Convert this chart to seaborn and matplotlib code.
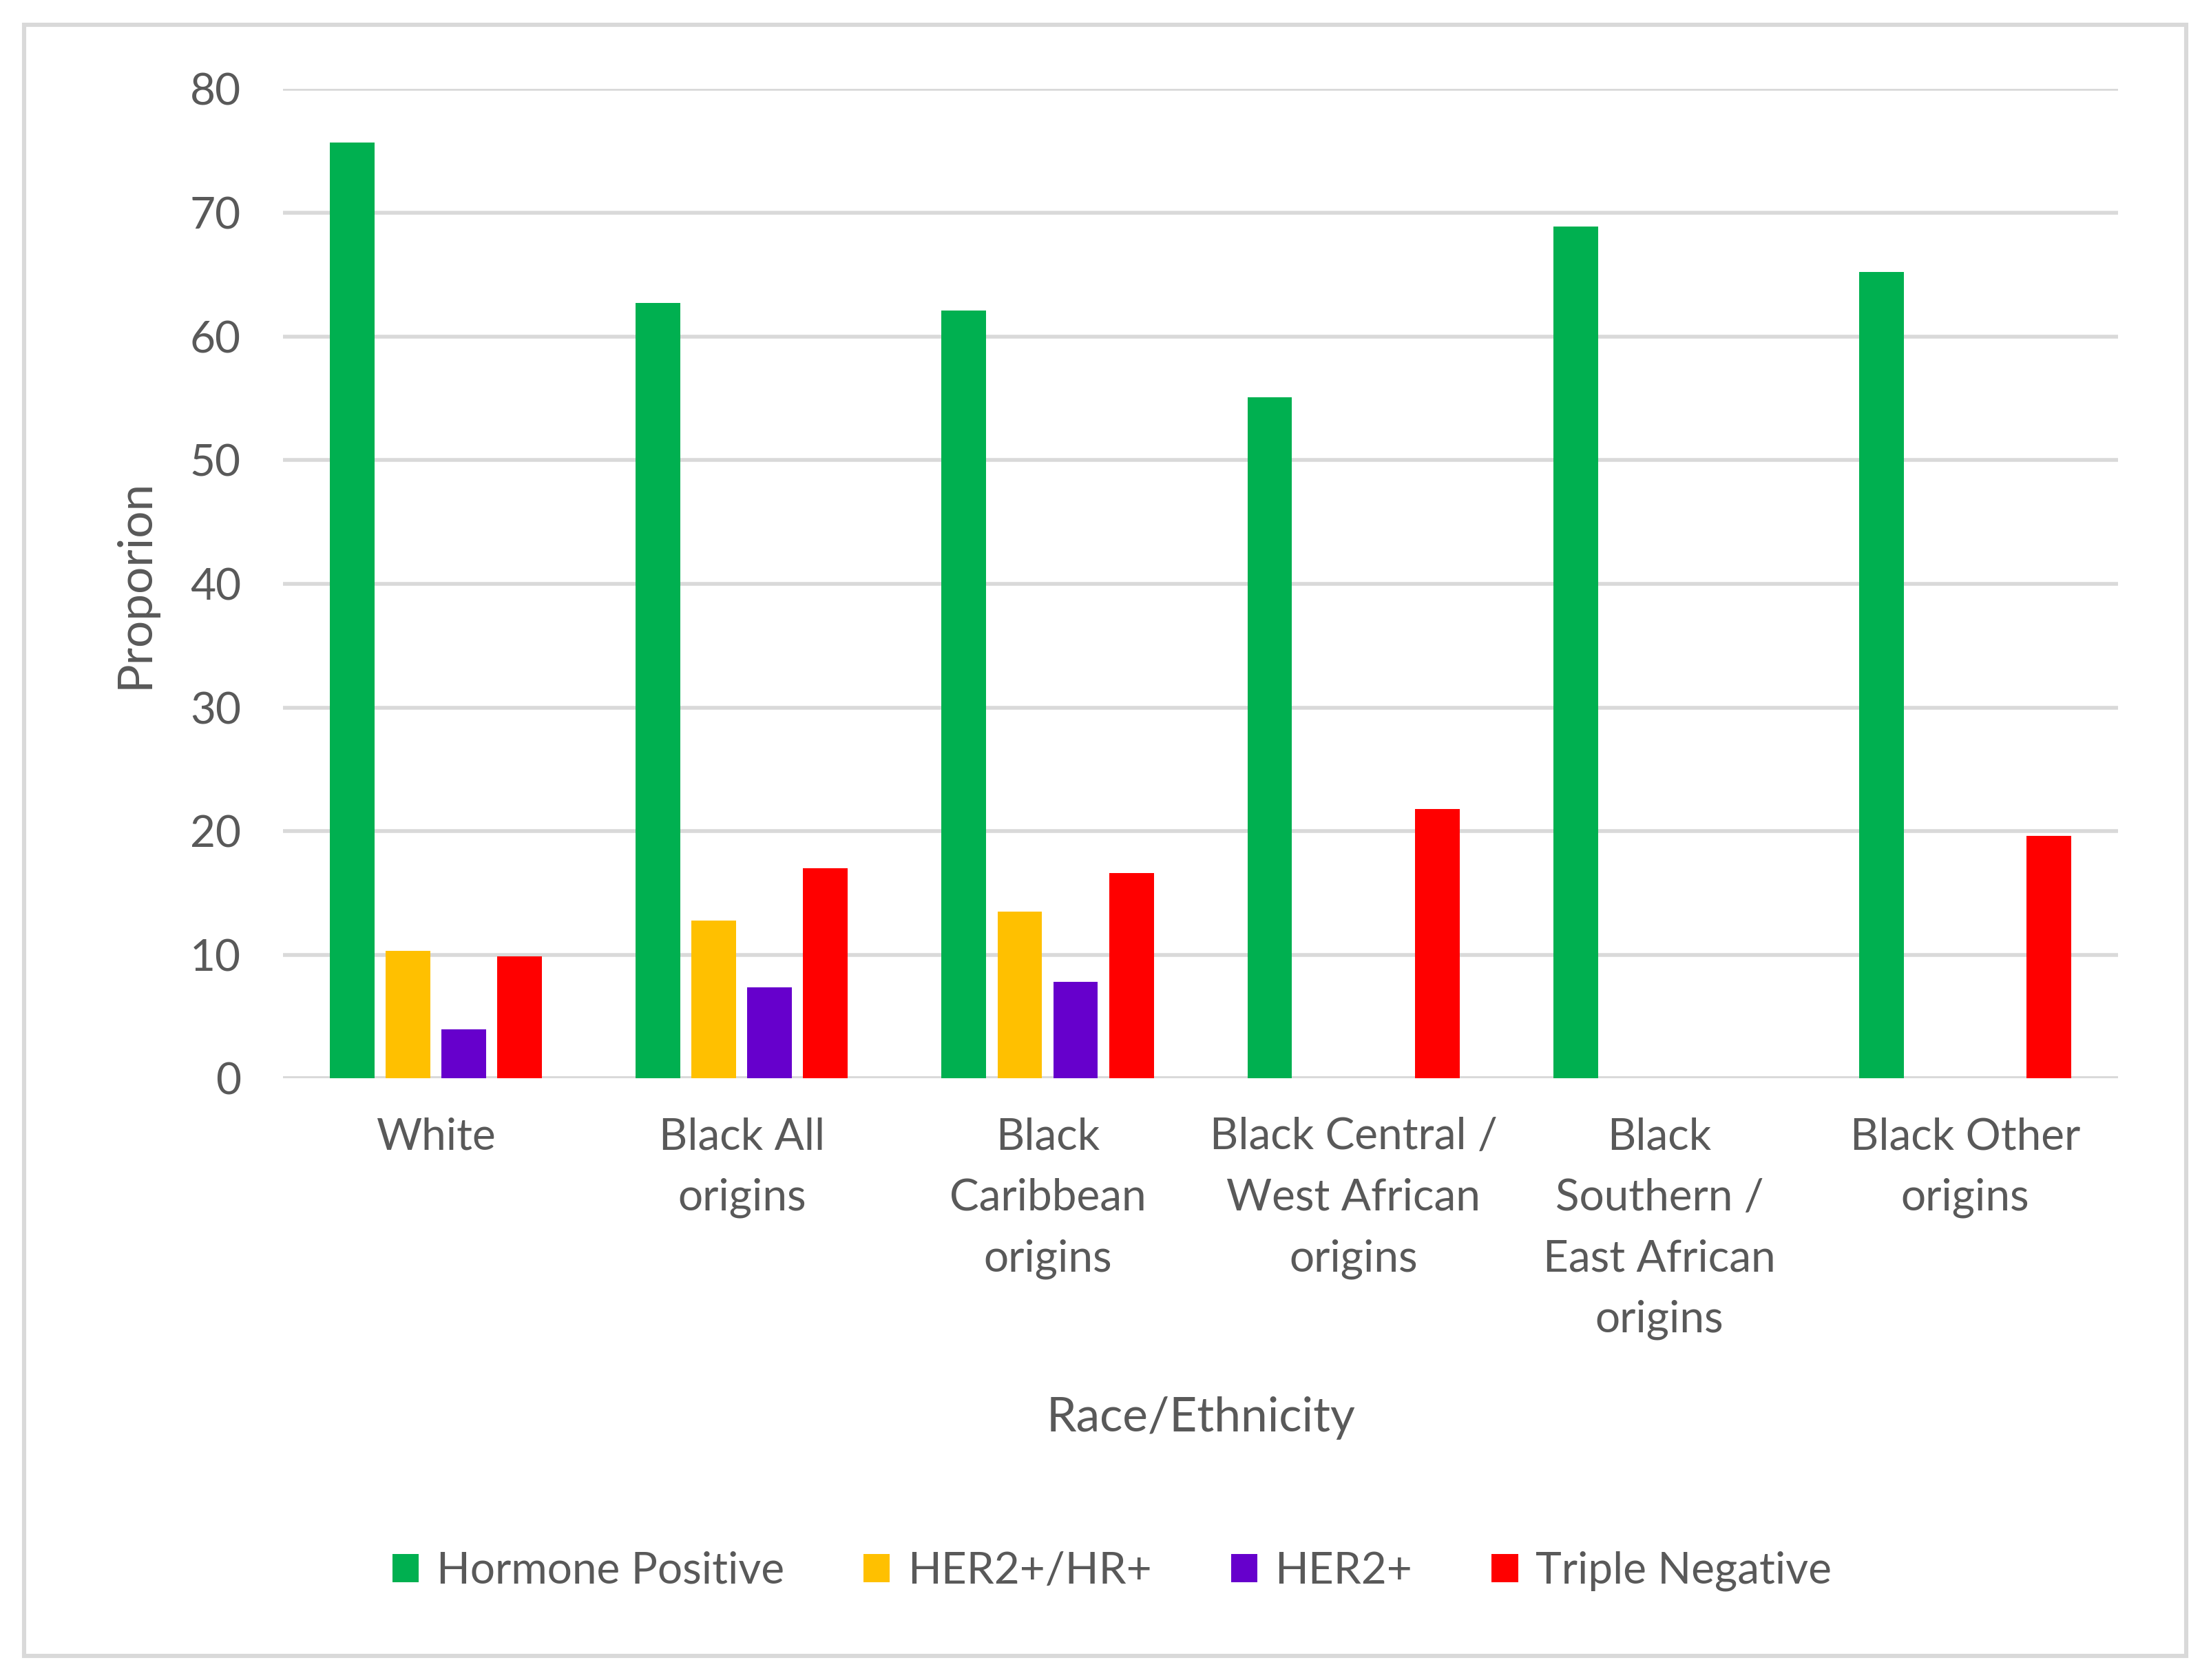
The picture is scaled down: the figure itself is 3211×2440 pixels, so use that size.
import pandas as pd
import numpy as np
import matplotlib.pyplot as plt
import seaborn as sns
from matplotlib.patches import Rectangle

# values (missing bars left as NaN)
groups = ["White", "Black All\norigins", "Black\nCaribbean\norigins",
          "Black Central /\nWest African\norigins",
          "Black\nSouthern /\nEast African\norigins", "Black Other\norigins"]
subtypes = ["Hormone Positive", "HER2+/HR+", "HER2+", "Triple Negative"]
hormone_pos = [75.7, 62.7, 62.1, 55.1, 68.9, 65.2]
her2_hr = [10.3, 12.8, 13.5, np.nan, np.nan, np.nan]
her2 = [4.0, 7.4, 7.8, np.nan, np.nan, np.nan]
triple_neg = [9.9, 17.0, 16.6, 21.8, np.nan, 19.6]
colors = ["#00B050", "#FFC000", "#6600CC", "#FF0000"]

rows = []
for name, vals in zip(subtypes, [hormone_pos, her2_hr, her2, triple_neg]):
    for g, v in zip(groups, vals):
        rows.append({"group": g, "subtype": name, "value": v})
data = pd.DataFrame(rows)

sns.set_theme(style="white")
plt.rcParams["font.family"] = ["Lato", "DejaVu Sans"]
text_col = "#595959"
grid_col = "#D9D9D9"

fig = plt.figure(figsize=(16.055, 12.2), dpi=200)
ax = fig.add_axes([0.128, 0.358, 0.830, 0.589])

sns.barplot(data=data, x="group", y="value", hue="subtype",
            order=groups, hue_order=subtypes, palette=colors, saturation=1,
            width=0.73, gap=0.2, errorbar=None, linewidth=0,
            ax=ax, zorder=3)

ax.set_ylim(0, 80)
ax.set_yticks(range(0, 81, 10))
ax.set_xlim(-0.5, 5.5)
ax.yaxis.grid(True, color=grid_col, linewidth=2.0, zorder=0)
ax.set_axisbelow(True)
for s in ax.spines.values():
    s.set_visible(False)
ax.axhline(0, color=grid_col, linewidth=2.0, zorder=1)

ax.tick_params(axis="y", length=0, pad=22, labelsize=23, labelcolor=text_col)
ax.tick_params(axis="x", length=0, pad=20, labelsize=23, labelcolor=text_col)
for lab in ax.get_xticklabels():
    lab.set_linespacing(1.65)

ax.set_xlabel("Race/Ethnicity", fontsize=25, color=text_col)
ax.set_ylabel("Proporion", fontsize=25, color=text_col)
ax.xaxis.set_label_coords(0.5, -0.343)
ax.xaxis.label.set_va("center")
ax.yaxis.set_label_coords(-0.0807, 0.5)
ax.yaxis.label.set_va("center")

handles, labels = ax.get_legend_handles_labels()
ax.get_legend().remove()
leg = fig.legend(handles, labels, loc="center", bbox_to_anchor=(0.503, 0.0647),
                 ncol=4, frameon=False, fontsize=23, handlelength=0.6,
                 handleheight=0.6, handletextpad=0.4, columnspacing=1.8)
for t in leg.get_texts():
    t.set_color(text_col)

fig.patches.append(Rectangle((0.0109, 0.0143), 0.978, 0.971, transform=fig.transFigure,
                             fill=False, edgecolor=grid_col, linewidth=2.2))

fig.savefig("out.png", dpi=200, facecolor="white")
